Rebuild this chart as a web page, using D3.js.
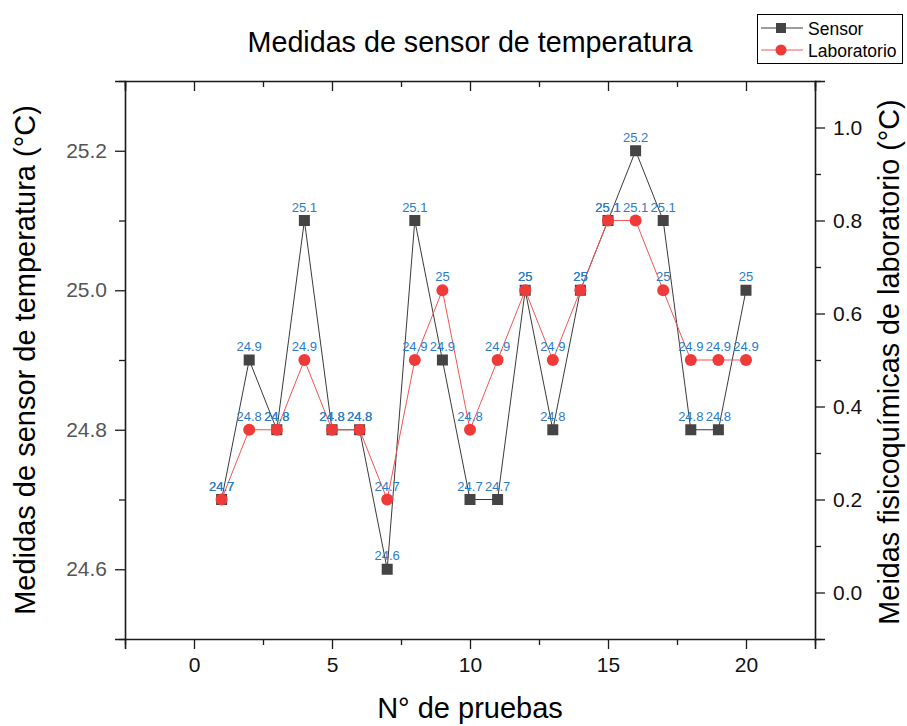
<!DOCTYPE html>
<html>
<head>
<meta charset="utf-8">
<script src="https://cdn.jsdelivr.net/npm/d3@7"></script>
<style>
  html, body { margin: 0; padding: 0; background: #fff; }
  svg { display: block; font-family: Arial, "Liberation Sans", sans-serif; }
</style>
</head>
<body>
<script>
// ---- data ----
const pruebas = [1,2,3,4,5,6,7,8,9,10,11,12,13,14,15,16,17,18,19,20];
const sensor = [24.7,24.9,24.8,25.1,24.8,24.8,24.6,25.1,24.9,24.7,24.7,25.0,24.8,25.0,25.1,25.2,25.1,24.8,24.8,25.0];
const laboratorio = [24.7,24.8,24.8,24.9,24.8,24.8,24.7,24.9,25.0,24.8,24.9,25.0,24.9,25.0,25.1,25.1,25.0,24.9,24.9,24.9];
const xTicks = [0,5,10,15,20];
const xMinorTicks = [-2.5,2.5,7.5,12.5,17.5,22.5];
const yLeftTicks = [24.6,24.8,25.0,25.2];
const yLeftMinor = [24.5,24.7,24.9,25.1,25.3];
const yRightTicks = [0.0,0.2,0.4,0.6,0.8,1.0];
const yRightMinor = [-0.1,0.1,0.3,0.5,0.7,0.9,1.1];
const seriesNames = ["Sensor","Laboratorio"];
const titleText = "Medidas de sensor de temperatura";
const xLabel = "N° de pruebas";
const yLeftLabel = "Medidas de sensor de temperatura (°C)";
const yRightLabel = "Meidas fisicoquímicas de laboratorio (°C)";

const W = 907, H = 726;
const L = 125, R = 815, T = 81, B = 639;

const svg = d3.select("body").append("svg").attr("width", W).attr("height", H);

const x = d3.scaleLinear().domain([-2.5, 22.5]).range([L, R]);
const yL = d3.scaleLinear().domain([24.5, 25.3]).range([B, T]);
const yR = d3.scaleLinear().domain([-0.1, 1.1]).range([B, T]);

const axisColor = "#1a1a1a";

function styleAxis(g, labelColor) {
  g.selectAll(".domain").attr("stroke", axisColor).attr("stroke-width", 1.6);
  g.selectAll(".tick line").attr("stroke", axisColor).attr("stroke-width", 1.3);
  g.selectAll(".tick text").attr("fill", labelColor).attr("font-size", 21)
    .attr("font-family", "Arial, 'Liberation Sans', sans-serif");
}

// bottom axis
const gx = svg.append("g").attr("transform", `translate(0,${B})`)
  .call(d3.axisBottom(x).tickValues(xTicks).tickFormat(d3.format("d")).tickSizeOuter(0).tickSize(10).tickPadding(8));
styleAxis(gx, "#111");
svg.append("g").attr("transform", `translate(0,${B})`)
  .call(d3.axisBottom(x).tickValues(xMinorTicks).tickFormat("").tickSizeOuter(0).tickSize(6))
  .call(g => { g.select(".domain").remove(); g.selectAll(".tick line").attr("stroke", axisColor).attr("stroke-width", 1.3); });

// top axis (mirror, ticks inward)
const gt = svg.append("g").attr("transform", `translate(0,${T})`)
  .call(d3.axisBottom(x).tickValues(xTicks).tickFormat("").tickSizeOuter(0).tickSize(10));
styleAxis(gt, "#111");
svg.append("g").attr("transform", `translate(0,${T})`)
  .call(d3.axisBottom(x).tickValues(xMinorTicks).tickFormat("").tickSizeOuter(0).tickSize(6))
  .call(g => { g.select(".domain").remove(); g.selectAll(".tick line").attr("stroke", axisColor).attr("stroke-width", 1.3); });

// left axis
const gl = svg.append("g").attr("transform", `translate(${L},0)`)
  .call(d3.axisLeft(yL).tickValues(yLeftTicks).tickFormat(d3.format(".1f")).tickSizeOuter(0).tickSize(10).tickPadding(8));
styleAxis(gl, "#555");
svg.append("g").attr("transform", `translate(${L},0)`)
  .call(d3.axisLeft(yL).tickValues(yLeftMinor).tickFormat("").tickSizeOuter(0).tickSize(6))
  .call(g => { g.select(".domain").remove(); g.selectAll(".tick line").attr("stroke", axisColor).attr("stroke-width", 1.3); });

// right axis
const gr = svg.append("g").attr("transform", `translate(${R},0)`)
  .call(d3.axisRight(yR).tickValues(yRightTicks).tickFormat(d3.format(".1f")).tickSizeOuter(0).tickSize(10).tickPadding(8));
styleAxis(gr, "#111");
svg.append("g").attr("transform", `translate(${R},0)`)
  .call(d3.axisRight(yR).tickValues(yRightMinor).tickFormat("").tickSizeOuter(0).tickSize(6))
  .call(g => { g.select(".domain").remove(); g.selectAll(".tick line").attr("stroke", axisColor).attr("stroke-width", 1.3); });

// series
const labColor = "#ef3a3a", lblColor = "#2a7cc7";
const line = d3.line().x((d, i) => x(pruebas[i])).y(d => yL(d));

svg.append("path").datum(sensor).attr("d", line)
  .attr("fill", "none").attr("stroke", "#3a3a3a").attr("stroke-width", 1);
svg.append("g").selectAll("rect").data(sensor).join("rect")
  .attr("x", (d, i) => x(pruebas[i]) - 5.5).attr("y", d => yL(d) - 5.5)
  .attr("width", 11).attr("height", 11).attr("fill", "#444");

svg.append("path").datum(laboratorio).attr("d", line)
  .attr("fill", "none").attr("stroke", "#f25555").attr("stroke-width", 1);
svg.append("g").selectAll("circle").data(laboratorio).join("circle")
  .attr("cx", (d, i) => x(pruebas[i])).attr("cy", d => yL(d)).attr("r", 6)
  .attr("fill", labColor);

// data labels
const fmtLbl = d => String(+d.toFixed(1));
[sensor, laboratorio].forEach(arr => {
  svg.append("g").selectAll("text").data(arr).join("text")
    .attr("x", (d, i) => x(pruebas[i])).attr("y", d => yL(d) - 9)
    .attr("text-anchor", "middle").attr("font-size", 13)
    .attr("fill", lblColor).text(fmtLbl);
});

// titles
svg.append("text").attr("x", 470).attr("y", 52).attr("text-anchor", "middle")
  .attr("font-size", 28.7).attr("fill", "#000").text(titleText);
svg.append("text").attr("x", 470).attr("y", 718).attr("text-anchor", "middle")
  .attr("font-size", 29).attr("fill", "#000").text(xLabel);
svg.append("text").attr("transform", `translate(35,360) rotate(-90)`).attr("text-anchor", "middle")
  .attr("font-size", 29).attr("fill", "#000").text(yLeftLabel);
svg.append("text").attr("transform", `translate(899,362) rotate(-90)`).attr("text-anchor", "middle")
  .attr("font-size", 28.8).attr("fill", "#000").text(yRightLabel);

// legend
const lg = svg.append("g");
lg.append("rect").attr("x", 757.5).attr("y", 14.5).attr("width", 145).attr("height", 49)
  .attr("fill", "#fff").attr("stroke", "#000").attr("stroke-width", 1);
lg.append("line").attr("x1", 761).attr("x2", 803).attr("y1", 28).attr("y2", 28).attr("stroke", "#3a3a3a");
lg.append("rect").attr("x", 776).attr("y", 23).attr("width", 10).attr("height", 10).attr("fill", "#444");
lg.append("text").attr("x", 808).attr("y", 34.5).attr("font-size", 17.5).text(seriesNames[0]);
lg.append("line").attr("x1", 761).attr("x2", 803).attr("y1", 50).attr("y2", 50).attr("stroke", "#f25555");
lg.append("circle").attr("cx", 781).attr("cy", 50).attr("r", 5.5).attr("fill", labColor);
lg.append("text").attr("x", 808).attr("y", 56.5).attr("font-size", 17.5).text(seriesNames[1]);
</script>
</body>
</html>
